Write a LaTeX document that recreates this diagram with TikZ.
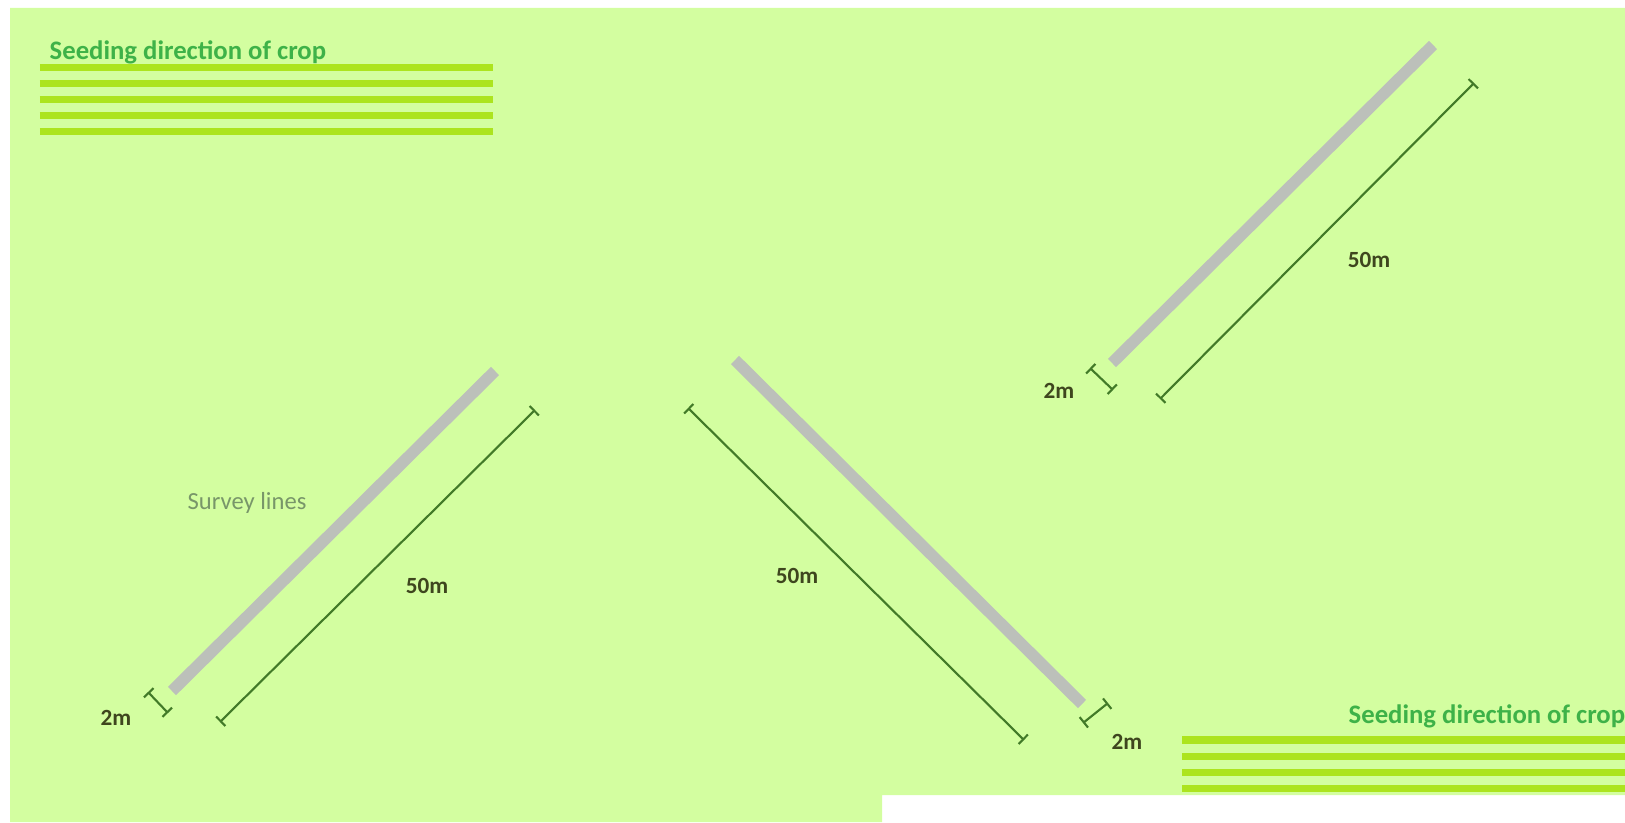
\documentclass[tikz,border=0pt]{standalone}
\usepackage{fontspec}
\setmainfont{Carlito}
\usetikzlibrary{arrows.meta, positioning}
\definecolor{fieldgreen}{RGB}{211,254,160}
\definecolor{stripegreen}{RGB}{172,228,30}
\definecolor{seedgreen}{RGB}{62,178,72}
\definecolor{surveygray}{RGB}{188,192,186}
\definecolor{dimgreen}{RGB}{66,122,40}
\definecolor{labeldark}{RGB}{62,70,30}
\definecolor{surveytext}{RGB}{120,150,105}
\tikzset{
	stripe/.style={stripegreen, line width=2pt}
}
\tikzset{
	surveyline/.style={surveygray, line width=3.3pt},
	dimline/.style={dimgreen, line width=0.6pt, {Bar[width=3.8pt]}-{Bar[width=3.8pt]}},
	seedtext/.style={font=\fontsize{7.6}{9}\selectfont\bfseries\color{seedgreen}, inner sep=0pt},
	dimlabel/.style={font=\fontsize{6.6}{8}\selectfont\bfseries\color{labeldark}, inner sep=0pt}
}

\begin{document}
\begin{tikzpicture}
      \useasboundingbox (0,0) rectangle (16.25,8.22);
      % field
      \fill[fieldgreen] (0.10,8.14) -- (16.25,8.14) -- (16.25,0.27) -- (8.82,0.27)
        -- (8.82,0) -- (0.10,0) -- cycle;
      % seeding direction, top left
      \foreach \i in {0,...,4}
        \draw[stripe] (0.40,7.545-0.161*\i) -- (4.93,7.545-0.161*\i);
      \node[seedtext, anchor=base west] (seedA) at (0.49,7.62) {Seeding direction of crop};
      % seeding direction, bottom right
      \foreach \i in {0,...,3}
        \draw[stripe] (11.82,0.82-0.161*\i) -- (16.25,0.82-0.161*\i);
      \node[seedtext, anchor=base west] (seedB) at (13.48,0.99) {Seeding direction of crop};

      % survey line, left
      \coordinate (sAtop) at (4.95,4.51);
      \coordinate (sAbot) at (1.72,1.31);
      \draw[surveyline] (sAtop) -- (sAbot);
      \coordinate (dAtop) at (5.35,4.12);
      \coordinate (dAbot) at (2.20,1.00);
      \draw[dimline] (dAtop) -- (dAbot);
      \coordinate (wAa) at (1.48,1.30);
      \coordinate (wAb) at (1.68,1.09);
      \draw[dimline] (wAa) -- (wAb);
      \node[dimlabel] (wAlabel) at (1.16,1.04) {2m};
      \node[dimlabel] (dAlabel) at (4.27,2.36) {50m};
      \node[font=\fontsize{7}{8}\selectfont\color{surveytext}, inner sep=0pt] (survey) at (2.47,3.19) {Survey lines};

      % survey line, middle
      \coordinate (sBtop) at (7.35,4.62);
      \coordinate (sBbot) at (10.82,1.18);
      \draw[surveyline] (sBtop) -- (sBbot);
      \coordinate (dBtop) at (6.88,4.14);
      \coordinate (dBbot) at (10.24,0.82);
      \draw[dimline] (dBtop) -- (dBbot);
      \coordinate (wBa) at (11.08,1.19);
      \coordinate (wBb) at (10.83,0.99);
      \draw[dimline] (wBa) -- (wBb);
      \node[dimlabel] (wBlabel) at (11.27,0.80) {2m};
      \node[dimlabel] (dBlabel) at (7.97,2.46) {50m};

      % survey line, top right
      \coordinate (sCtop) at (14.33,7.77);
      \coordinate (sCbot) at (11.12,4.59);
      \draw[surveyline] (sCtop) -- (sCbot);
      \coordinate (dCtop) at (14.74,7.39);
      \coordinate (dCbot) at (11.60,4.23);
      \draw[dimline] (dCtop) -- (dCbot);
      \coordinate (wCa) at (10.90,4.54);
      \coordinate (wCb) at (11.13,4.32);
      \draw[dimline] (wCa) -- (wCb);
      \node[dimlabel] (wClabel) at (10.59,4.31) {2m};
      \node[dimlabel] (dClabel) at (13.69,5.62) {50m};
    \end{tikzpicture}
\end{document}
